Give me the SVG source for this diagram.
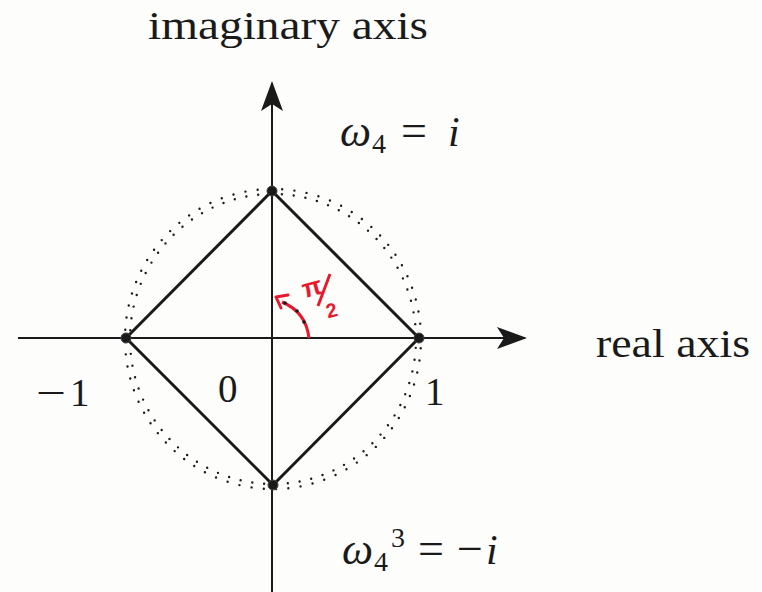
<svg xmlns="http://www.w3.org/2000/svg" width="762" height="592" viewBox="0 0 762 592">
<style>
.lbl{font-family:"Liberation Serif","DejaVu Serif",serif;font-size:39px;fill:#1a1a1a}
.it{font-style:italic}
.axis{stroke:#1a1a1a;stroke-width:2;fill:none}
.edge{stroke:#1a1a1a;stroke-width:3;fill:none;stroke-linejoin:round}
.dotc{stroke:#1a1a1a;stroke-width:2.4;fill:none;stroke-dasharray:0 1;stroke-linecap:round}
.vtx{fill:#1a1a1a;stroke:#444;stroke-width:1}
.red{fill:#e8192c;font-family:"Liberation Sans","DejaVu Sans",sans-serif}
</style>
<defs>
<marker id="ah" viewBox="0 0 30 22" refX="28" refY="11" markerWidth="30" markerHeight="22" markerUnits="userSpaceOnUse" orient="auto">
<path d="M0,0 L30,11 L0,22 L7,11 Z" fill="#1a1a1a"/>
</marker>
</defs>
<rect width="762" height="592" fill="#fdfdfb"/>
<g id="connectors">
<line class="axis" x1="18" y1="338" x2="525" y2="338" marker-end="url(#ah)"/>
<line class="axis" x1="272" y1="592" x2="272" y2="83" marker-end="url(#ah)"/>
</g>
<g id="circle">
<ellipse class="dotc" cx="273" cy="339" rx="143" ry="145" pathLength="76" stroke-dashoffset="0.25"/>
<ellipse class="dotc" cx="273" cy="339" rx="148" ry="150" pathLength="76" stroke-dashoffset="0.25"/>
</g>
<g id="square">
<path class="edge" d="M272,191 L419,338 L273,485 L126,338 Z"/>
</g>
<g id="vertices">
<circle class="vtx" cx="272" cy="191" r="5"/>
<circle class="vtx" cx="419" cy="338" r="5"/>
<circle class="vtx" cx="273" cy="485" r="5"/>
<circle class="vtx" cx="126" cy="338" r="5"/>
</g>
<g id="angle">
<path d="M309,338 Q306,312 282,302" fill="none" stroke="#e8192c" stroke-width="3"/>
<path d="M276,297 L288,295 M276,297 L281,308" fill="none" stroke="#e8192c" stroke-width="3" stroke-linecap="round"/>
<circle cx="285" cy="303" r="1.8" fill="#1a1a1a"/>
<circle cx="297" cy="311" r="1.8" fill="#1a1a1a"/>
<circle cx="304" cy="322" r="1.8" fill="#1a1a1a"/>
<text class="red" x="302" y="296" font-size="26" font-weight="bold" transform="rotate(-15 312 288)">π</text>
<line x1="330" y1="274" x2="318" y2="306" stroke="#e8192c" stroke-width="3"/>
<text class="red" x="326" y="317" font-size="20" font-weight="bold" transform="rotate(-15 333 310)">2</text>
</g>
<g id="labels">
<text class="lbl" x="148" y="39" font-size="38" textLength="280" lengthAdjust="spacingAndGlyphs">imaginary axis</text>
<text class="lbl" x="596" y="357" font-size="38" textLength="154" lengthAdjust="spacingAndGlyphs">real axis</text>
<text class="lbl"><tspan x="36" y="406" textLength="30" lengthAdjust="spacingAndGlyphs">−</tspan><tspan x="70" y="406">1</tspan></text>
<text class="lbl" x="218" y="402">0</text>
<text class="lbl" x="425" y="405">1</text>
<text class="lbl"><tspan class="it" x="340" y="146" font-size="44">ω</tspan><tspan x="372" y="153" font-size="28">4</tspan><tspan x="401" y="146" font-size="46">=</tspan><tspan class="it" x="448" y="146" font-size="42">i</tspan></text>
<text class="lbl"><tspan class="it" x="342" y="564" font-size="44">ω</tspan><tspan x="374" y="571" font-size="28">4</tspan><tspan x="391" y="547" font-size="28">3</tspan><tspan x="418" y="564" font-size="46">=</tspan><tspan x="457" y="564" font-size="46">−</tspan><tspan class="it" x="486" y="564" font-size="42">i</tspan></text>
</g>
</svg>
